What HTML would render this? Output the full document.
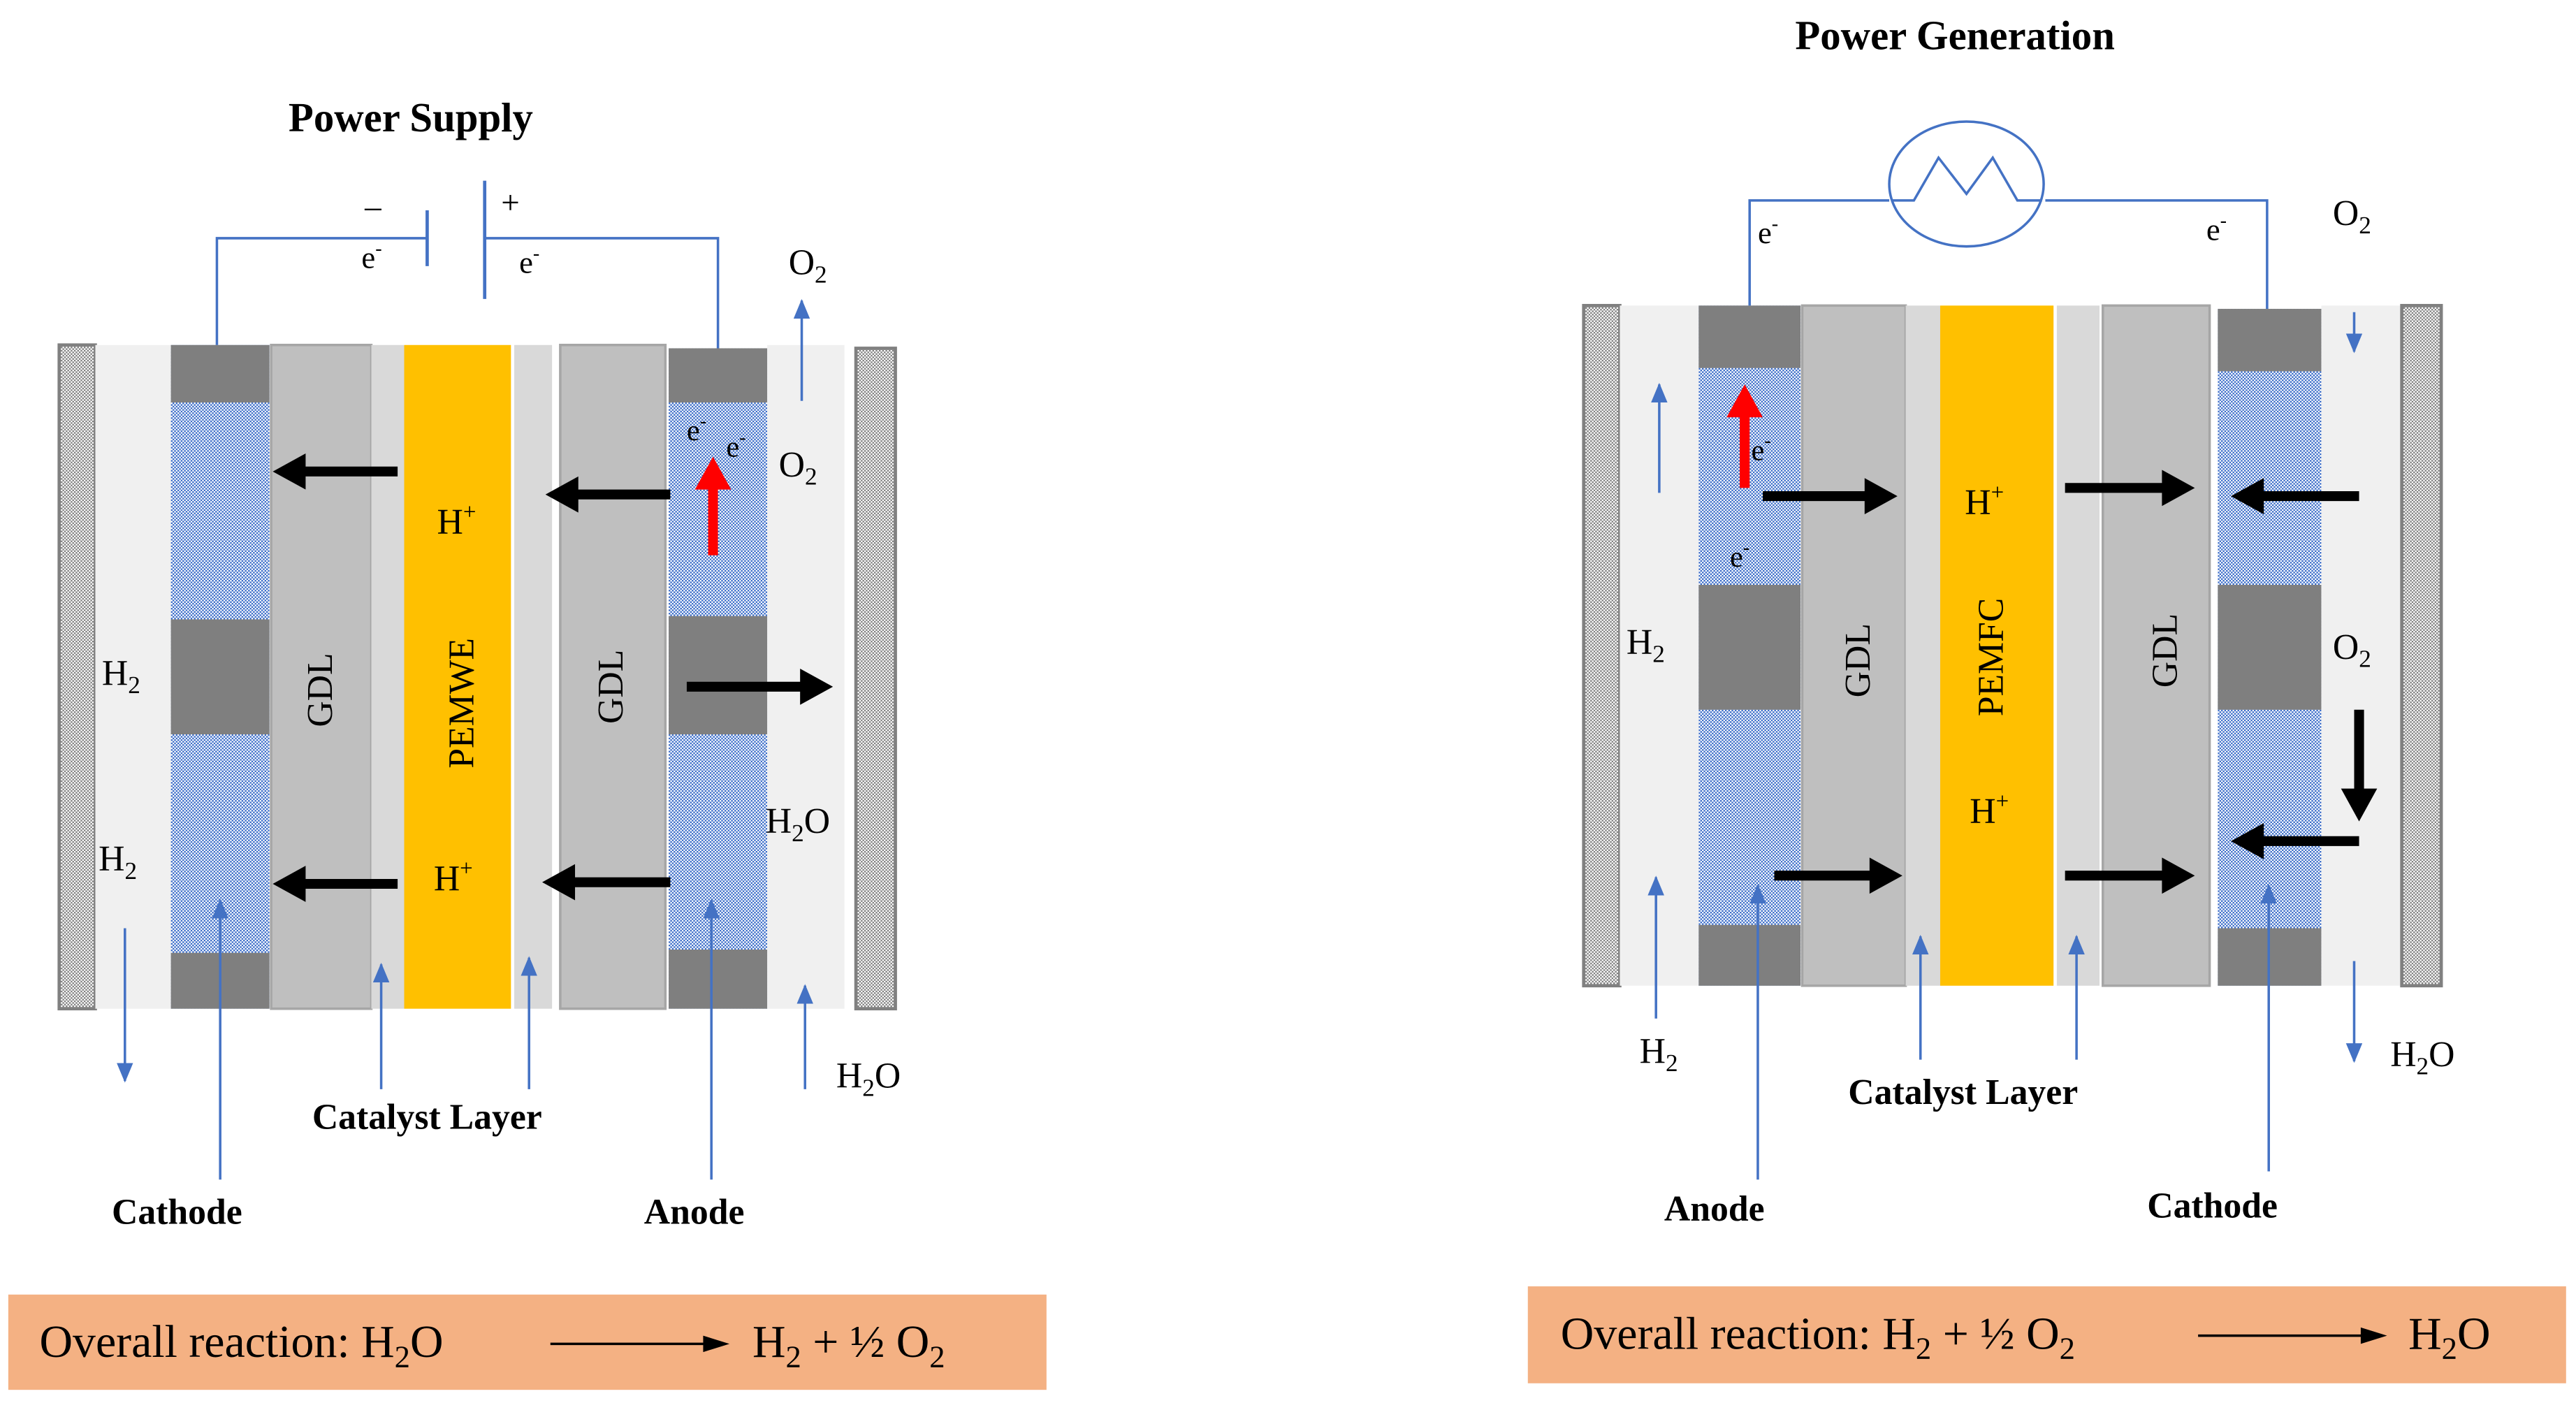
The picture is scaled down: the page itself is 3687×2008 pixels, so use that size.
<!DOCTYPE html>
<html><head><meta charset="utf-8"><style>html,body{margin:0;padding:0;background:#fff}svg{display:block}svg text,svg tspan{font-family:"Liberation Serif","Times New Roman",Times,"DejaVu Serif",serif}</style></head>
<body>
<svg width="3687" height="2008" viewBox="0 0 1568 854" xmlns="http://www.w3.org/2000/svg">
<defs>
<pattern id="bl" width="2" height="2" patternUnits="userSpaceOnUse"><rect width="2" height="2" fill="#fff"/><rect width="1" height="1" fill="#3a6cc8"/><rect x="1" y="1" width="1" height="1" fill="#3a6cc8"/></pattern>
<pattern id="gr" width="2" height="2" patternUnits="userSpaceOnUse"><rect width="2" height="2" fill="#fff"/><rect width="1" height="1" fill="#808080"/><rect x="1" y="1" width="1" height="1" fill="#808080"/></pattern>
<marker id="ba" markerWidth="12" markerHeight="10" refX="11" refY="5" orient="auto" markerUnits="userSpaceOnUse" viewBox="0 0 12 10"><path d="M0,0L12,5L0,10z" fill="#4472c4"/></marker>
</defs>
<rect width="1568" height="854" fill="#fff"/>

<rect x="36" y="210" width="22" height="404" fill="url(#gr)" stroke="#808080" stroke-width="2"/>
<rect x="58" y="210" width="46" height="404" fill="#f0f0f0"/>
<rect x="104" y="210" width="60" height="404" fill="url(#bl)"/>
<rect x="104" y="210" width="60" height="35" fill="#7f7f7f"/>
<rect x="104" y="377" width="60" height="70" fill="#7f7f7f"/>
<rect x="104" y="580" width="60" height="34" fill="#7f7f7f"/>
<rect x="165" y="210" width="61" height="404" fill="#bfbfbf" stroke="#a6a6a6" stroke-width="1.5"/>
<rect x="226" y="210" width="20" height="404" fill="#d9d9d9"/>
<rect x="246" y="210" width="65" height="404" fill="#ffc000"/>
<rect x="313" y="210" width="23" height="404" fill="#d9d9d9"/>
<rect x="341" y="210" width="64" height="404" fill="#bfbfbf" stroke="#a6a6a6" stroke-width="1.5"/>
<rect x="407" y="212" width="60" height="402" fill="url(#bl)"/>
<rect x="407" y="212" width="60" height="33" fill="#7f7f7f"/>
<rect x="407" y="375" width="60" height="72" fill="#7f7f7f"/>
<rect x="407" y="578" width="60" height="36" fill="#7f7f7f"/>
<rect x="467" y="210" width="47" height="404" fill="#f0f0f0"/>
<rect x="521" y="212" width="24" height="402" fill="url(#gr)" stroke="#808080" stroke-width="2"/>

<g stroke="#4472c4" stroke-width="1.5" fill="none">
<polyline points="132,210 132,145 260,145"/>
<polyline points="295,145 437,145 437,212"/>
</g>
<line x1="260" y1="128" x2="260" y2="162" stroke="#4472c4" stroke-width="2"/>
<line x1="295" y1="110" x2="295" y2="182" stroke="#4472c4" stroke-width="2"/>
<text x="250" y="80" font-size="25" font-weight="bold" text-anchor="middle">Power Supply</text>
<text x="222" y="132" font-size="20">–</text>
<text x="220" y="163" font-size="19">e<tspan font-size="12" dy="-8">-</tspan></text>
<text x="305" y="130" font-size="20">+</text>
<text x="316" y="166" font-size="19">e<tspan font-size="12" dy="-8">-</tspan></text>
<text x="480" y="167" font-size="22">O<tspan font-size="15" dy="5">2</tspan></text>
<text x="474" y="290" font-size="22">O<tspan font-size="15" dy="5">2</tspan></text>
<text x="62" y="417" font-size="22">H<tspan font-size="15" dy="5">2</tspan></text>
<text x="60" y="530" font-size="22">H<tspan font-size="15" dy="5">2</tspan></text>
<text x="466" y="507" font-size="22">H<tspan font-size="15" dy="5">2</tspan><tspan dy="-5">O</tspan></text>
<text x="509" y="662" font-size="22">H<tspan font-size="15" dy="5">2</tspan><tspan dy="-5">O</tspan></text>
<text x="418" y="268" font-size="18">e<tspan font-size="12" dy="-8">-</tspan></text>
<text x="442" y="278" font-size="18">e<tspan font-size="12" dy="-8">-</tspan></text>
<text x="266" y="325" font-size="22">H<tspan font-size="14" dy="-9">+</tspan></text>
<text x="264" y="542" font-size="22">H<tspan font-size="14" dy="-9">+</tspan></text>
<text transform="translate(288,428) rotate(-90)" font-size="22" text-anchor="middle">PEMWE</text>
<text transform="translate(202,420) rotate(-90)" font-size="22" text-anchor="middle">GDL</text>
<text transform="translate(379,418) rotate(-90)" font-size="22" text-anchor="middle">GDL</text>

<g stroke="#4472c4" stroke-width="1.5" marker-end="url(#ba)">
<line x1="488" y1="244" x2="488" y2="183"/>
<line x1="76" y1="565" x2="76" y2="658"/>
<line x1="134" y1="718" x2="134" y2="548"/>
<line x1="232" y1="663" x2="232" y2="587"/>
<line x1="322" y1="663" x2="322" y2="583"/>
<line x1="433" y1="718" x2="433" y2="548"/>
<line x1="490" y1="663" x2="490" y2="600"/>
</g>
<g fill="#000">
<path d="M242,284 L186,284 L186,276 L166,287 L186,298 L186,290 L242,290z"/>
<path d="M408,298 L352,298 L352,290 L332,301 L352,312 L352,304 L408,304z"/>
<path d="M242,535 L186,535 L186,527 L166,538 L186,549 L186,541 L242,541z"/>
<path d="M408,534 L350,534 L350,526 L330,537 L350,548 L350,540 L408,540z"/>
<path d="M418,415 L487,415 L487,407 L507,418 L487,429 L487,421 L418,421z"/>
</g>
<path d="M431,338 L431,298 L423,298 L434,278 L445,298 L437,298 L437,338z" fill="#ff0000"/>
<text x="190" y="687" font-size="22" font-weight="bold">Catalyst  Layer</text>
<text x="68" y="745" font-size="22" font-weight="bold">Cathode</text>
<text x="392" y="745" font-size="22" font-weight="bold">Anode</text>

<rect x="5" y="788" width="632" height="58" fill="#f4b183"/>
<text x="24" y="826" font-size="28">Overall  reaction:  H<tspan font-size="19" dy="6">2</tspan><tspan dy="-6">O</tspan></text>
<line x1="335" y1="818" x2="430" y2="818" stroke="#000" stroke-width="1.5"/>
<path d="M428,813 L444,818 L428,823z" fill="#000"/>
<text x="458" y="826" font-size="28">H<tspan font-size="19" dy="6">2</tspan><tspan dy="-6"> + ½ O</tspan><tspan font-size="19" dy="6">2</tspan></text>

<rect x="964" y="186" width="22" height="414" fill="url(#gr)" stroke="#808080" stroke-width="2"/>
<rect x="986" y="186" width="48" height="414" fill="#f0f0f0"/>
<rect x="1034" y="186" width="62" height="414" fill="url(#bl)"/>
<rect x="1034" y="186" width="62" height="38" fill="#7f7f7f"/>
<rect x="1034" y="356" width="62" height="76" fill="#7f7f7f"/>
<rect x="1034" y="563" width="62" height="37" fill="#7f7f7f"/>
<rect x="1097" y="186" width="63" height="414" fill="#bfbfbf" stroke="#a6a6a6" stroke-width="1.5"/>
<rect x="1160" y="186" width="21" height="414" fill="#d9d9d9"/>
<rect x="1181" y="186" width="69" height="414" fill="#ffc000"/>
<rect x="1252" y="186" width="26" height="414" fill="#d9d9d9"/>
<rect x="1280" y="186" width="65" height="414" fill="#bfbfbf" stroke="#a6a6a6" stroke-width="1.5"/>
<rect x="1350" y="188" width="63" height="412" fill="url(#bl)"/>
<rect x="1350" y="188" width="63" height="38" fill="#7f7f7f"/>
<rect x="1350" y="356" width="63" height="76" fill="#7f7f7f"/>
<rect x="1350" y="565" width="63" height="35" fill="#7f7f7f"/>
<rect x="1413" y="186" width="49" height="414" fill="#f0f0f0"/>
<rect x="1462" y="186" width="24" height="414" fill="url(#gr)" stroke="#808080" stroke-width="2"/>

<g stroke="#4472c4" stroke-width="1.5" fill="none">
<polyline points="1065,186 1065,122 1150,122"/>
<polyline points="1245,122 1380,122 1380,188"/>
<ellipse cx="1197" cy="112" rx="47" ry="38"/>
<polyline points="1152,122 1165,122 1180,96 1197,118 1213,96 1228,122 1243,122"/>
</g>
<text x="1190" y="30" font-size="25" font-weight="bold" text-anchor="middle">Power Generation</text>
<text x="1070" y="148" font-size="19">e<tspan font-size="12" dy="-8">-</tspan></text>
<text x="1343" y="146" font-size="19">e<tspan font-size="12" dy="-8">-</tspan></text>
<text x="1420" y="137" font-size="22">O<tspan font-size="15" dy="5">2</tspan></text>
<text x="1420" y="401" font-size="22">O<tspan font-size="15" dy="5">2</tspan></text>
<text x="990" y="398" font-size="22">H<tspan font-size="15" dy="5">2</tspan></text>
<text x="998" y="647" font-size="22">H<tspan font-size="15" dy="5">2</tspan></text>
<text x="1455" y="649" font-size="22">H<tspan font-size="15" dy="5">2</tspan><tspan dy="-5">O</tspan></text>
<text x="1066" y="280" font-size="18">e<tspan font-size="12" dy="-8">-</tspan></text>
<text x="1053" y="345" font-size="18">e<tspan font-size="12" dy="-8">-</tspan></text>
<text x="1196" y="313" font-size="22">H<tspan font-size="14" dy="-9">+</tspan></text>
<text x="1199" y="501" font-size="22">H<tspan font-size="14" dy="-9">+</tspan></text>
<text transform="translate(1219,400) rotate(-90)" font-size="22" text-anchor="middle">PEMFC</text>
<text transform="translate(1138,402) rotate(-90)" font-size="22" text-anchor="middle">GDL</text>
<text transform="translate(1325,396) rotate(-90)" font-size="22" text-anchor="middle">GDL</text>

<g stroke="#4472c4" stroke-width="1.5" marker-end="url(#ba)">
<line x1="1433" y1="190" x2="1433" y2="214"/>
<line x1="1010" y1="300" x2="1010" y2="234"/>
<line x1="1008" y1="620" x2="1008" y2="534"/>
<line x1="1070" y1="718" x2="1070" y2="539"/>
<line x1="1169" y1="645" x2="1169" y2="570"/>
<line x1="1264" y1="645" x2="1264" y2="570"/>
<line x1="1381" y1="713" x2="1381" y2="539"/>
<line x1="1433" y1="585" x2="1433" y2="646"/>
</g>
<g fill="#000">
<path d="M1073,299 L1135,299 L1135,291 L1155,302 L1135,313 L1135,305 L1073,305z"/>
<path d="M1257,294 L1316,294 L1316,286 L1336,297 L1316,308 L1316,300 L1257,300z"/>
<path d="M1436,299 L1378,299 L1378,291 L1358,302 L1378,313 L1378,305 L1436,305z"/>
<path d="M1080,530 L1138,530 L1138,522 L1158,533 L1138,544 L1138,536 L1080,536z"/>
<path d="M1257,530 L1316,530 L1316,522 L1336,533 L1316,544 L1316,536 L1257,536z"/>
<path d="M1433,432 L1439,432 L1439,480 L1447,480 L1436,500 L1425,480 L1433,480z"/>
<path d="M1436,509 L1378,509 L1378,501 L1358,512 L1378,523 L1378,515 L1436,515z"/>
</g>
<path d="M1059,297 L1059,254 L1051,254 L1062,234 L1073,254 L1065,254 L1065,297z" fill="#ff0000"/>
<text x="1125" y="672" font-size="22" font-weight="bold">Catalyst  Layer</text>
<text x="1013" y="743" font-size="22" font-weight="bold">Anode</text>
<text x="1307" y="741" font-size="22" font-weight="bold">Cathode</text>

<rect x="930" y="783" width="632" height="59" fill="#f4b183"/>
<text x="950" y="821" font-size="28">Overall  reaction:  H<tspan font-size="19" dy="6">2</tspan><tspan dy="-6"> + ½ O</tspan><tspan font-size="19" dy="6">2</tspan></text>
<line x1="1338" y1="813" x2="1440" y2="813" stroke="#000" stroke-width="1.5"/>
<path d="M1437,808 L1453,813 L1437,818z" fill="#000"/>
<text x="1466" y="821" font-size="28">H<tspan font-size="19" dy="6">2</tspan><tspan dy="-6">O</tspan></text>
</svg>
</body></html>
